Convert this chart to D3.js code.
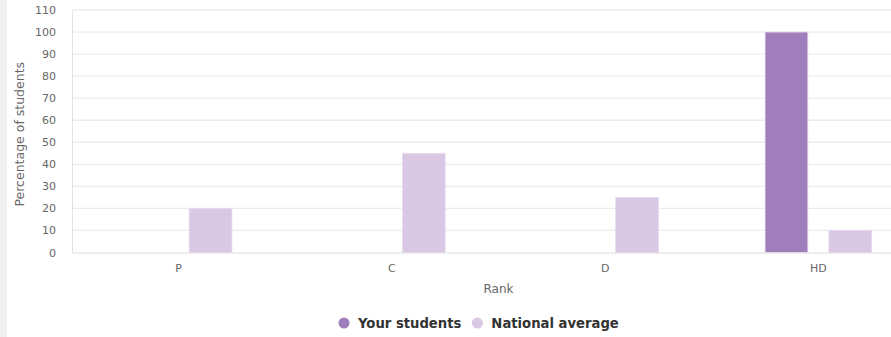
<!DOCTYPE html>
<html>
<head>
<meta charset="utf-8">
<script src="https://cdn.jsdelivr.net/npm/d3@7"></script>
<style>
  html, body { margin: 0; padding: 0; background: #fff; }
  svg { display: block; font-family: "DejaVu Sans", sans-serif; }
</style>
</head>
<body>
<svg id="chart" width="891" height="337"></svg>
<script>
const categories = ["P", "C", "D", "HD"];
const seriesNames = ["Your students", "National average"];
const yourStudents = [0, 0, 0, 100];
const nationalAverage = [20, 45, 25, 10];
const yTicks = [0, 10, 20, 30, 40, 50, 60, 70, 80, 90, 100, 110];
const colors = ["#a07dbb", "#d9c7e3"];

(function () {
const svg = d3.select("#chart");
const W = 891, H = 337;

// left gray strip
svg.append("rect").attr("x", 0).attr("y", 0).attr("width", 7).attr("height", H).attr("fill", "#f1f1f1");

const mLeft = 72, mRight = 925, mTop = 10, mBottom = 252.5;

const x = d3.scaleBand().domain(categories).range([mLeft, mRight]).paddingInner(0.5).paddingOuter(0.25);
const xs = d3.scaleBand().domain(seriesNames).range([0, x.bandwidth()]).paddingInner(0.33).paddingOuter(0);
const y = d3.scaleLinear().domain([0, 110]).range([mBottom, mTop]);

// grid
svg.append("g").selectAll("line").data(yTicks.filter(d => d > 0)).join("line")
  .attr("x1", mLeft).attr("x2", mRight)
  .attr("y1", d => y(d)).attr("y2", d => y(d))
  .attr("stroke", "#ececec").attr("stroke-width", 1.3);

// y axis
const yAxis = d3.axisLeft(y).tickValues(yTicks).tickSize(0).tickPadding(16);
const gy = svg.append("g").attr("transform", `translate(${mLeft},0)`).call(yAxis);
gy.select(".domain").attr("stroke", "#e2e2e2");
gy.selectAll("text").attr("fill", "#666").attr("font-size", 11).attr("font-family", "DejaVu Sans");

// bars
const data = categories.map((c, i) => ({cat: c, vals: [yourStudents[i], nationalAverage[i]]}));
const groups = svg.append("g").selectAll("g").data(data).join("g")
  .attr("transform", d => `translate(${x(d.cat)},0)`);
groups.selectAll("rect").data(d => d.vals.map((v, j) => ({name: seriesNames[j], v, j}))).join("rect")
  .attr("x", d => xs(d.name))
  .attr("width", xs.bandwidth())
  .attr("y", d => y(d.v))
  .attr("height", d => y(0) - y(d.v))
  .attr("fill", d => colors[d.j])
  .attr("stroke", d => d.v > 0 ? "#ead8f2" : "none")
  .attr("stroke-width", 0.8);

// x axis
const xAxis = d3.axisBottom(x).tickSize(0).tickPadding(12);
const gx = svg.append("g").attr("transform", `translate(0,${mBottom})`).call(xAxis);
gx.select(".domain").attr("stroke", "#e0dae6").attr("stroke-width", 1.2);
gx.selectAll("text").attr("fill", "#666").attr("font-size", 11).attr("font-family", "DejaVu Sans");

// axis titles
svg.append("text").attr("x", (mLeft + mRight) / 2).attr("y", 293)
  .attr("text-anchor", "middle").attr("fill", "#666").attr("font-size", 12).text("Rank");
svg.append("text").attr("transform", `translate(24,${(mTop + mBottom) / 2 + 3}) rotate(-90)`)
  .attr("text-anchor", "middle").attr("fill", "#666").attr("font-size", 12.5).text("Percentage of students");

// legend
const legend = svg.append("g");
let lx = 344;
seriesNames.forEach((name, i) => {
  legend.append("circle").attr("cx", lx).attr("cy", 323).attr("r", 5.5).attr("fill", colors[i]);
  const t = legend.append("text").attr("x", lx + 14).attr("y", 327.5)
    .attr("font-size", 13.2).attr("font-weight", "bold").attr("fill", "#333").text(name);
  lx = lx + 14 + t.node().getComputedTextLength() + 16;
});
})();
</script>
</body>
</html>
